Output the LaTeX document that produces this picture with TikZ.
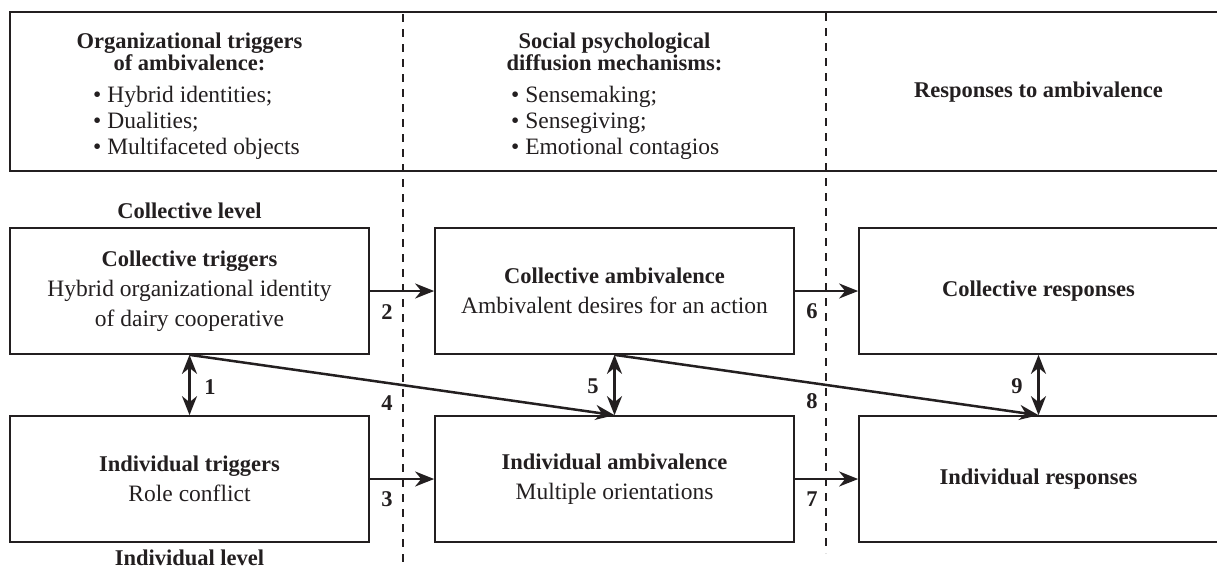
\documentclass[tikz,border=0pt]{standalone}
\usepackage{fontspec}
\setmainfont{Liberation Serif}
\usetikzlibrary{arrows.meta}
\definecolor{ink}{RGB}{35,31,32}
\newcommand\boxtitle[1]{{\fontsize{22.5}{30}\selectfont\bfseries #1}}
\begin{document}
\begin{tikzpicture}[x=1pt,y=-1pt,
  every node/.style={text=ink, font=\fontsize{23.5}{30}\selectfont, inner sep=0pt},
  box/.style={draw=ink, line width=1.7pt, minimum width=359pt, minimum height=126pt, align=center},
  num/.style={font=\fontsize{22.5}{30}\selectfont\bfseries},
  head/.style={font=\fontsize{22.5}{21.5}\selectfont\bfseries, align=center},
  items/.style={font=\fontsize{23.5}{25.7}\selectfont, align=left},
  tip/.style={line width=2.5pt, draw=ink, -{Stealth[length=19pt,width=15pt,inset=6pt]}},
  both/.style={line width=2.5pt, draw=ink, {Stealth[length=19pt,width=15pt,inset=6pt]}-{Stealth[length=19pt,width=15pt,inset=6pt]}},
  divider/.style={draw=ink, line width=2pt, dash pattern=on 8pt off 7pt}
]
\useasboundingbox (0,0) rectangle (1217,568);
\clip (0,0) rectangle (1217,568);

% header band with the three column titles
\node[draw=ink, line width=1.7pt, minimum width=1212pt, minimum height=159pt] (hdr) at (616,91.5) {};
\node[head] (h1) at (189.5,52) {Organizational triggers\\of ambivalence:};
\node[items, anchor=west] (l1) at (93,123) {\textbullet\ Hybrid identities;\\\textbullet\ Dualities;\\\textbullet\ Multifaceted objects};
\node[head] (h2) at (614.5,52) {Social psychological\\diffusion mechanisms:};
\node[items, anchor=west] (l2) at (511,123) {\textbullet\ Sensemaking;\\\textbullet\ Sensegiving;\\\textbullet\ Emotional contagios};
\node[head] (h3) at (1038.5,92) {Responses to ambivalence};

% level labels
\node[num, anchor=base] (lvc) at (189.5,218) {Collective level};
\node[num, anchor=base] (lvi) at (189.5,565) {Individual level};

% boxes
\node[box] (ct) at (189.5,291) {\boxtitle{Collective triggers}\\Hybrid organizational identity\\of dairy cooperative};
\node[box] (it) at (189.5,479) {\boxtitle{Individual triggers}\\Role conflict};
\node[box] (ca) at (614.5,291) {\boxtitle{Collective ambivalence}\\Ambivalent desires for an action};
\node[box] (ia) at (614.5,479) {\boxtitle{Individual ambivalence}\\Multiple orientations};
\node[box] (cr) at (1038.5,291) {\boxtitle{Collective responses}};
\node[box] (ir) at (1038.5,479) {\boxtitle{Individual responses}};

% column dividers
\coordinate (d1t) at (403,14);
\coordinate (d1b) at (403,568);
\coordinate (d2t) at (826,13);
\coordinate (d2b) at (826,553);
\draw[divider] (d1t) -- (d1b);
\draw[divider] (d2t) -- (d2b);

% links
\draw[both] (ct.south) -- (it.north);
\draw[tip] (ct.east) -- (ca.west);
\draw[tip] (it.east) -- (ia.west);
\draw[tip] (ct.south) -- (ia.north);
\draw[both] (ca.south) -- (ia.north);
\draw[tip] (ca.east) -- (cr.west);
\draw[tip] (ia.east) -- (ir.west);
\draw[tip] (ca.south) -- (ir.north);
\draw[both] (cr.south) -- (ir.north);

% path numbers
\node[num] (n1) at (210,387) {1};
\node[num] (n2) at (387,312) {2};
\node[num] (n3) at (387,499) {3};
\node[num] (n4) at (387,403) {4};
\node[num] (n5) at (593,386) {5};
\node[num] (n6) at (812,311) {6};
\node[num] (n7) at (812,499) {7};
\node[num] (n8) at (812,401) {8};
\node[num] (n9) at (1017,386) {9};
\end{tikzpicture}
\end{document}
